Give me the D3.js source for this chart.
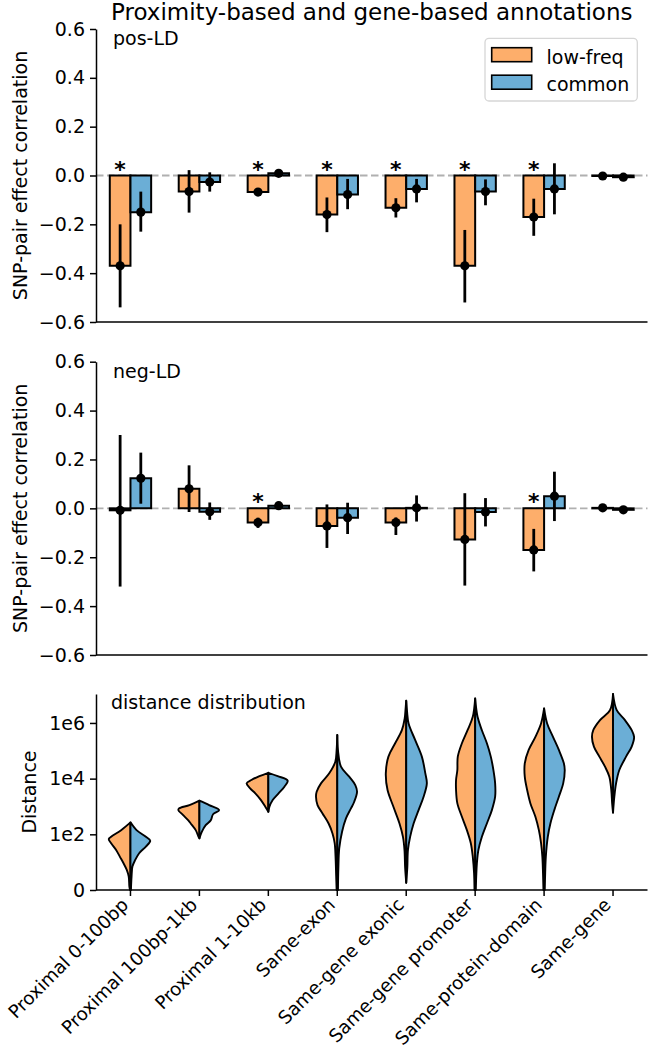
<!DOCTYPE html>
<html><head><meta charset="utf-8">
<script src="https://cdn.jsdelivr.net/npm/d3@7"></script>
<style>
body{margin:0;background:#fff}
svg{display:block}
text{font-family:"DejaVu Sans",sans-serif;fill:#000}
</style>
</head><body>
<svg id="chart" width="648" height="1060"></svg>
<script>
// ---------------- DATA ----------------
const categories = ["Proximal 0-100bp","Proximal 100bp-1kb","Proximal 1-10kb","Same-exon",
  "Same-gene exonic","Same-gene promoter","Same-protein-domain","Same-gene"];
const series = ["low-freq","common"];
const corrTicks = [-0.6,-0.4,-0.2,0.0,0.2,0.4,0.6];
const distTicks = [0,2,4,6];
const distTickLabels = ["0","1e2","1e4","1e6"];

// pos-LD panel
const posLowFreq   = [-0.37,-0.066,-0.068,-0.16,-0.132,-0.37,-0.17,-0.002];
const posLowFreqLo = [-0.54,-0.152,-0.084,-0.232,-0.172,-0.52,-0.247,-0.007];
const posLowFreqHi = [-0.20,0.022,-0.052,-0.09,-0.093,-0.223,-0.095,0.003];
const posCommon    = [-0.15,-0.027,0.009,-0.078,-0.055,-0.066,-0.055,-0.007];
const posCommonLo  = [-0.23,-0.066,0.004,-0.138,-0.11,-0.122,-0.159,-0.012];
const posCommonHi  = [-0.066,0.013,0.014,-0.014,-0.014,-0.016,0.05,-0.002];
const posStars     = [true,false,true,true,true,true,true,false];

// neg-LD panel
const negLowFreq   = [-0.008,0.08,-0.058,-0.072,-0.058,-0.127,-0.17,0.002];
const negLowFreqLo = [-0.32,-0.015,-0.08,-0.162,-0.109,-0.316,-0.258,-0.002];
const negLowFreqHi = [0.30,0.176,-0.038,0.016,-0.037,0.062,-0.084,0.006];
const negCommon    = [0.123,-0.014,0.011,-0.038,0.002,-0.015,0.05,-0.006];
const negCommonLo  = [0.019,-0.047,0.006,-0.105,-0.054,-0.074,-0.052,-0.01];
const negCommonHi  = [0.228,0.024,0.016,0.023,0.053,0.042,0.15,-0.002];
const negStars     = [false,false,true,false,false,false,true,false];

// distance distribution: [log10 distance, relative density]
const violinLowFreq = [
  [[2.43,0],[2.15,.43],[1.91,.89],[1.83,1.0],[1.68,.89],[1.44,.66],[1.2,.49],[0.96,.32],[0.72,.17],[0.48,.08],[0.12,.05],[0,.02]],
  [[3.21,0],[3.05,.46],[2.93,.94],[2.87,.97],[2.7,.76],[2.5,.51],[2.39,.4],[2.15,.17],[1.93,.05],[1.855,0]],
  [[4.21,0],[4.09,.41],[3.95,.78],[3.83,1.0],[3.65,.84],[3.47,.6],[3.23,.34],[2.99,.14],[2.81,0]],
  [[5.57,0],[5.03,.03],[4.61,.09],[4.19,.37],[3.83,.75],[3.53,.95],[3.35,.98],[3.05,.91],[2.75,.68],[2.39,.4],[2.03,.22],[1.68,.12],[1.2,.08],[0.48,.05],[0,.03]],
  [[6.8,0],[6.4,.04],[6.16,.07],[5.74,.2],[5.27,.51],[4.79,.82],[4.19,.94],[3.59,.86],[2.99,.59],[2.39,.31],[1.91,.15],[1.44,.08],[0.8,.05],[0.26,0]],
  [[6.88,0],[6.22,.11],[5.74,.35],[5.27,.61],[4.79,.8],[4.31,.82],[3.95,.88],[3.59,.88],[3.11,.82],[2.63,.61],[2.15,.38],[1.68,.2],[1.2,.11],[0.6,.05],[0,.03]],
  [[6.52,0],[5.98,.14],[5.5,.4],[5.03,.71],[4.55,.89],[4.07,.89],[3.59,.78],[3.11,.63],[2.63,.4],[2.15,.24],[1.68,.14],[1.2,.08],[0.6,.05],[0,.03]],
  [[7.04,0],[6.46,.14],[6.1,.6],[5.74,.91],[5.5,.97],[5.15,.88],[4.79,.63],[4.43,.37],[4.07,.17],[3.59,.08],[3.1,.04],[2.78,0]]
];
const violinCommon = [
  [[2.43,0],[2.15,.28],[1.91,.71],[1.77,.91],[1.56,.71],[1.32,.4],[1.08,.22],[0.84,.09],[0.48,.05],[0,.02]],
  [[3.21,0],[3.05,.45],[2.87,.91],[2.72,.63],[2.5,.52],[2.33,.29],[2.09,.11],[1.855,0]],
  [[4.21,0],[4.09,.43],[3.93,.89],[3.71,.74],[3.47,.47],[3.23,.2],[2.99,.05],[2.81,0]],
  [[5.57,0],[5.03,.03],[4.43,.17],[4.07,.55],[3.77,.83],[3.53,.91],[3.17,.78],[2.93,.63],[2.57,.4],[2.09,.22],[1.49,.09],[0.78,.05],[0,.03]],
  [[6.8,0],[6.4,.04],[5.98,.11],[5.39,.41],[4.79,.72],[4.19,.88],[3.83,.95],[3.35,.8],[2.87,.57],[2.39,.34],[1.91,.18],[1.44,.08],[0.8,.05],[0.26,0]],
  [[6.88,0],[6.22,.11],[5.74,.31],[5.27,.54],[4.79,.72],[4.31,.84],[3.83,.92],[3.35,.92],[2.87,.77],[2.39,.54],[1.91,.31],[1.44,.15],[0.96,.08],[0.5,.05],[0,.03]],
  [[6.52,0],[5.98,.14],[5.5,.41],[5.03,.68],[4.55,.91],[4.31,.95],[3.83,.88],[3.35,.68],[2.87,.47],[2.39,.29],[1.91,.17],[1.2,.08],[0.6,.05],[0,.03]],
  [[7.04,0],[6.46,.17],[6.1,.55],[5.74,.86],[5.5,.97],[5.15,.86],[4.79,.6],[4.31,.29],[3.83,.14],[3.35,.06],[2.78,0]]
];

// ---------------- STYLE / LAYOUT ----------------
const colors = {"low-freq":"#fdae6b","common":"#6baed6"};
const FS = 19;
const svg = d3.select("#chart");
const x = d3.scaleBand().domain(categories).range([96, 647.5]).padding(0);
const bw = x.bandwidth();
const xSub = d3.scaleBand().domain(series).range([0.2*bw, 0.8*bw]);
const cx = c => x(c) + bw/2;

const yPos = d3.scaleLinear().domain([-0.6,0.6]).range([322,29]);
const yNeg = d3.scaleLinear().domain([-0.6,0.6]).range([655,361.7]);
const yDist = d3.scaleLinear().domain([0,7.04]).range([890,694]);
const wScale = d3.scaleLinear().domain([0,1]).range([0, 0.315*bw]);

function styleAxis(g){
  g.select(".domain").attr("stroke","#000").attr("stroke-width",1.5);
  g.selectAll(".tick line").attr("stroke","#000").attr("stroke-width",1.5);
  g.selectAll(".tick text").attr("font-size",FS).attr("fill","#000").attr("font-family","DejaVu Sans");
}

function barPanel(y, lowV, lowLo, lowHi, comV, comLo, comHi, stars, label){
  const g = svg.append("g");
  g.append("line").attr("x1",96).attr("x2",647.5).attr("y1",y(0)).attr("y2",y(0))
    .attr("stroke","#b0b0b0").attr("stroke-width",1.9).attr("stroke-dasharray","7.5,3.5");
  const sets = [
    {s:"low-freq", v:lowV, lo:lowLo, hi:lowHi},
    {s:"common", v:comV, lo:comLo, hi:comHi}
  ];
  sets.forEach(set=>{
    categories.forEach((c,i)=>{
      const x0 = x(c)+xSub(set.s), x1 = x0+xSub.bandwidth();
      const y0 = y(0), y1 = y(set.v[i]);
      g.append("path").attr("d",`M${x0},${y0}H${x1}V${y1}H${x0}Z`)
        .attr("fill",colors[set.s]).attr("stroke","#000").attr("stroke-width",2);
    });
  });
  sets.forEach(set=>{
    categories.forEach((c,i)=>{
      const xm = x(c)+xSub(set.s)+xSub.bandwidth()/2;
      g.append("line").attr("x1",xm).attr("x2",xm).attr("y1",y(set.lo[i])).attr("y2",y(set.hi[i]))
        .attr("stroke","#000").attr("stroke-width",2.8);
      g.append("circle").attr("cx",xm).attr("cy",y(set.v[i])).attr("r",4.6).attr("fill","#000");
    });
  });
  categories.forEach((c,i)=>{
    if(!stars[i]) return;
    const xm = x(c)+xSub("low-freq")+xSub.bandwidth()/2;
    g.append("text").attr("x",xm).attr("y",y(0)+1).attr("text-anchor","middle")
      .attr("font-size",22).attr("font-weight","bold").text("*");
  });
  const ax = g.append("g").attr("transform","translate(96,0)")
    .call(d3.axisLeft(y).tickValues(corrTicks).tickSize(6).tickPadding(5).tickSizeOuter(0)
      .tickFormat(d3.format(".1f")));
  styleAxis(ax);
  g.append("line").attr("x1",96).attr("x2",647.5).attr("y1",y(-0.6)).attr("y2",y(-0.6))
    .attr("stroke","#000").attr("stroke-width",1.5);
  g.append("text").attr("x",113).attr("y",y(0.6)+16).attr("font-size",FS).text(label);
  const yc = (y(0.6)+y(-0.6))/2;
  g.append("text").attr("transform",`translate(27,${yc}) rotate(-90)`).attr("text-anchor","middle")
    .attr("font-size",FS).text("SNP-pair effect correlation");
}

// Title
svg.append("text").attr("x",(96+647.5)/2).attr("y",20).attr("text-anchor","middle")
  .attr("font-size",23).text("Proximity-based and gene-based annotations");

barPanel(yPos, posLowFreq,posLowFreqLo,posLowFreqHi,posCommon,posCommonLo,posCommonHi,posStars,"pos-LD");
barPanel(yNeg, negLowFreq,negLowFreqLo,negLowFreqHi,negCommon,negCommonLo,negCommonHi,negStars,"neg-LD");

// Legend
const lg = svg.append("g");
lg.append("rect").attr("x",485).attr("y",38.3).attr("width",152.3).attr("height",62.7).attr("rx",4)
  .attr("fill","#fff").attr("fill-opacity",0.8).attr("stroke","#d6d6d6").attr("stroke-width",1.3);
series.forEach((s,i)=>{
  const yy = 47.7 + i*27.5;
  lg.append("rect").attr("x",491.7).attr("y",yy).attr("width",40).attr("height",14)
    .attr("fill",colors[s]).attr("stroke","#000").attr("stroke-width",1.6);
  lg.append("text").attr("x",546.5).attr("y",yy+15.8).attr("font-size",FS).text(s);
});

// Violin panel
const vg = svg.append("g");
function half(c, data, side, color){
  const c0 = cx(c);
  const area = d3.area().curve(d3.curveCatmullRom.alpha(0.5))
    .y(d=>yDist(d[0])).x0(c0).x1(d=>c0 + side*wScale(d[1]));
  vg.append("path").attr("d",area(data)).attr("fill",color)
    .attr("stroke","#000").attr("stroke-width",1.9).attr("stroke-linejoin","round");
}
categories.forEach((c,i)=>{
  half(c, violinLowFreq[i], -1, colors["low-freq"]);
  half(c, violinCommon[i], 1, colors["common"]);
});
const ay = vg.append("g").attr("transform","translate(96,0)")
  .call(d3.axisLeft(yDist).tickValues(distTicks).tickSize(6).tickPadding(5).tickSizeOuter(0)
    .tickFormat((d,i)=>distTickLabels[i]));
styleAxis(ay);
const axb = vg.append("g").attr("transform","translate(0,890)")
  .call(d3.axisBottom(x).tickSize(6).tickSizeOuter(0).tickFormat(""));
styleAxis(axb);
axb.select(".domain").attr("d","M96,0H647.5");
categories.forEach(c=>{
  vg.append("text").attr("transform",`translate(${cx(c)-1},906) rotate(-45)`)
    .attr("text-anchor","end").attr("font-size",18.3).text(c);
});
vg.append("text").attr("x",111).attr("y",709).attr("font-size",FS).text("distance distribution");
vg.append("text").attr("transform",`translate(36,${(694+890)/2}) rotate(-90)`).attr("text-anchor","middle")
  .attr("font-size",FS).text("Distance");
</script>
</body></html>
